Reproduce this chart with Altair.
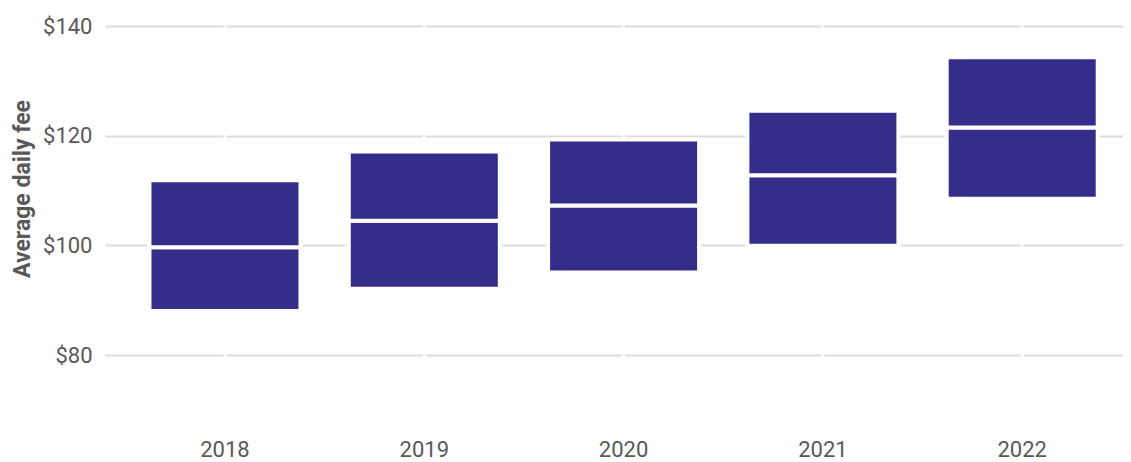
import altair as alt
import pandas as pd

years = ["2018", "2019", "2020", "2021", "2022"]
q1 = [88.05, 92.1, 95.05, 99.95, 108.5]
median = [99.65, 104.5, 107.3, 112.8, 121.5]
q3 = [111.9, 117.1, 119.3, 124.55, 134.3]
y_ticks = [80, 100, 120, 140]

rows = []
for yr, a, m, b in zip(years, q1, median, q3):
    rows.append({"year": yr, "lo": a, "hi": m})
    rows.append({"year": yr, "lo": m, "hi": b})
df = pd.DataFrame(rows)
df_years = pd.DataFrame({"year": years})

W, H = 1018, 384
BAR = "#352d8a"
TXT = "#595959"
FONT = "Roboto"

xscale = alt.Scale(domain=years, paddingInner=0.2423, paddingOuter=0.175, align=0.6375)
yscale = alt.Scale(domain=[70, 140], nice=False, zero=False)

xenc = alt.X("year:N", scale=xscale, sort=years,
             axis=alt.Axis(title=None, labelAngle=0, grid=False, domain=False, ticks=False,
                           labelPadding=29, labelFontSize=22, labelColor=TXT, labelFont=FONT))

rules = alt.Chart(df_years).mark_rule(color="white", strokeWidth=3).encode(
    x=xenc, y=alt.value(0), y2=alt.value(H)
)

bars = alt.Chart(df).mark_bar(color=BAR, stroke="white", strokeWidth=4).encode(
    x=xenc,
    y=alt.Y("lo:Q", scale=yscale,
            axis=alt.Axis(values=y_ticks, labelExpr="'$' + datum.value", grid=True,
                          gridColor="#dcdcdc", gridWidth=2, domain=False, ticks=False,
                          labelPadding=13, labelFontSize=22, labelColor=TXT, labelFont=FONT,
                          title="Average daily fee", titleFont=FONT, titleFontSize=23,
                          titleFontWeight="bold", titleColor=TXT, titleAngle=270,
                          titleAlign="center", titleBaseline="middle",
                          titleX=-83, titleY=162.5)),
    y2="hi:Q",
)

chart = alt.layer(rules, bars).properties(
    width=W, height=H,
    autosize=alt.AutoSizeParams(type="none"),
    padding={"left": 97, "top": 18, "right": 0, "bottom": 52},
).configure_view(stroke=None)

chart.save("out.html", embed_options={"renderer": "svg", "actions": False})
